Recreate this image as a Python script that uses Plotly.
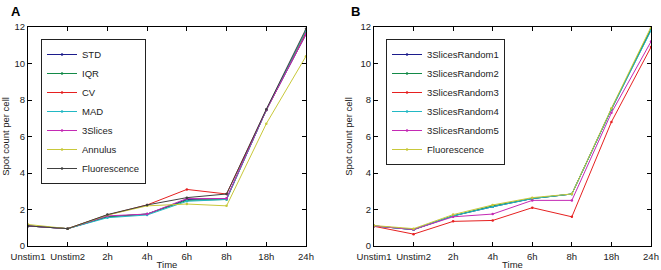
import plotly.graph_objects as go

categories = ["Unstim1", "Unstim2", "2h", "4h", "6h", "8h", "18h", "24h"]

# Panel A series
a_names = ["STD", "IQR", "CV", "MAD", "3Slices", "Annulus", "Fluorescence"]
a_std = [1.10, 0.95, 1.60, 1.75, 2.55, 2.60, 7.45, 11.60]
a_iqr = [1.10, 0.95, 1.60, 1.75, 2.50, 2.55, 7.45, 11.80]
a_cv = [1.10, 0.95, 1.70, 2.25, 3.10, 2.85, 7.45, 11.70]
a_mad = [1.10, 0.95, 1.55, 1.70, 2.45, 2.55, 7.45, 11.80]
a_3slices = [1.10, 0.95, 1.65, 1.75, 2.60, 2.60, 7.45, 11.60]
a_annulus = [1.18, 0.95, 1.70, 2.20, 2.30, 2.20, 6.70, 10.40]
a_fluor = [1.10, 0.95, 1.72, 2.25, 2.65, 2.85, 7.50, 11.90]

# Panel B series
b_names = ["3SlicesRandom1", "3SlicesRandom2", "3SlicesRandom3", "3SlicesRandom4", "3SlicesRandom5", "Fluorescence"]
b_r1 = [1.10, 0.90, 1.65, 2.15, 2.60, 2.85, 7.50, 11.85]
b_r2 = [1.10, 0.90, 1.65, 2.20, 2.60, 2.85, 7.50, 11.90]
b_r3 = [1.08, 0.65, 1.35, 1.40, 2.10, 1.60, 6.80, 10.90]
b_r4 = [1.10, 0.90, 1.65, 2.15, 2.60, 2.85, 7.50, 11.80]
b_r5 = [1.10, 0.90, 1.60, 1.75, 2.50, 2.50, 7.30, 11.20]
b_fluor = [1.12, 0.95, 1.72, 2.25, 2.65, 2.85, 7.55, 12.00]

a_colors = ["#1c1c8c", "#138a48", "#e62020", "#22b8c4", "#c42ab4", "#c8c83a", "#404040"]
b_colors = ["#1c1c8c", "#138a48", "#e62020", "#22b8c4", "#c42ab4", "#c8c83a"]

fig = go.Figure()
for name, ys, c in zip(a_names, [a_std, a_iqr, a_cv, a_mad, a_3slices, a_annulus, a_fluor], a_colors):
    fig.add_trace(go.Scatter(x=categories, y=ys, name=name, mode="lines+markers",
                             line=dict(color=c, width=1), marker=dict(color=c, size=2.5),
                             xaxis="x", yaxis="y", legend="legend"))
for name, ys, c in zip(b_names, [b_r1, b_r2, b_r3, b_r4, b_r5, b_fluor], b_colors):
    fig.add_trace(go.Scatter(x=categories, y=ys, name=name, mode="lines+markers",
                             line=dict(color=c, width=1), marker=dict(color=c, size=2.5),
                             xaxis="x2", yaxis="y2", legend="legend2"))

W, H = 661, 270
FS = 9.5
axis_common = dict(showline=True, linecolor="black", linewidth=1, mirror="ticks",
                   ticks="inside", ticklen=4, tickcolor="black", showgrid=False,
                   zeroline=False, automargin=False, tickfont=dict(size=FS, color="#222"))
xa = dict(axis_common, type="category", range=[0, 7], tickangle=0, ticklabelstandoff=2,
          title=dict(text="Time", font=dict(size=FS, color="#222"), standoff=0))
ya = dict(axis_common, range=[0, 12], tickvals=[0, 2, 4, 6, 8, 10, 12],
          title=dict(text="Spot count per cell", font=dict(size=FS, color="#222"), standoff=6))

legend_common = dict(bgcolor="white", bordercolor="#222", borderwidth=1,
                     font=dict(size=FS, color="#222"), xanchor="left", yanchor="top",
                     tracegroupgap=0, itemwidth=30)

fig.update_layout(
    width=W, height=H,
    margin=dict(l=0, r=0, t=0, b=0),
    paper_bgcolor="white", plot_bgcolor="white",
    font=dict(family="Liberation Sans, Arial, sans-serif", size=FS, color="#222"),
    xaxis=dict(xa, domain=[28 / W, 306 / W], anchor="y"),
    yaxis=dict(ya, domain=[24 / H, 243 / H], anchor="x"),
    xaxis2=dict(xa, domain=[374 / W, 651 / W], anchor="y2"),
    yaxis2=dict(ya, domain=[24 / H, 243 / H], anchor="x2"),
    legend=dict(legend_common, x=41 / W, y=1 - 39 / H),
    legend2=dict(legend_common, x=386 / W, y=1 - 39 / H),
    showlegend=True,
    annotations=[
        dict(text="<b>A</b>", x=9 / W, y=1 - 2 / H, xref="paper", yref="paper",
             xanchor="left", yanchor="top", showarrow=False, font=dict(size=13, color="black")),
        dict(text="<b>B</b>", x=349 / W, y=1 - 2 / H, xref="paper", yref="paper",
             xanchor="left", yanchor="top", showarrow=False, font=dict(size=13, color="black")),
    ],
)

fig.write_html("out.html", config={"displayModeBar": False},
               post_script="document.body.style.margin='0px';document.body.style.overflow='hidden';")
